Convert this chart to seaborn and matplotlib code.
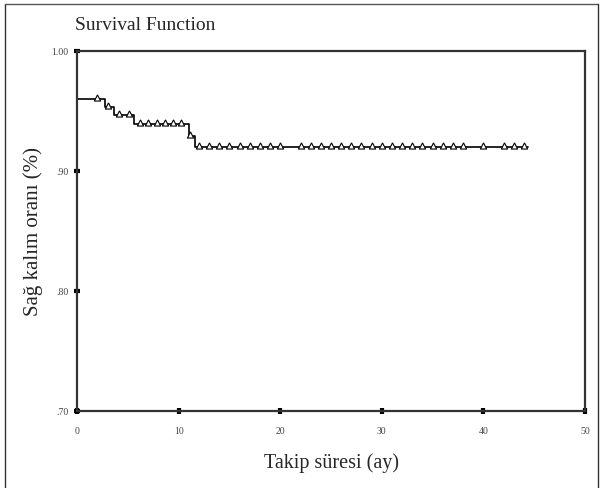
import matplotlib
matplotlib.use("Agg")
import matplotlib.pyplot as plt
from matplotlib.lines import Line2D
import seaborn as sns
import pandas as pd
import numpy as np

sns.set_style("white")
plt.rcParams["font.family"] = ["Liberation Serif", "DejaVu Serif"]

# Kaplan-Meier step function (time in months, survival proportion)
step_times = [0, 2.8, 3.6, 5.6, 11.0, 11.6, 44.4]
step_surv = [0.960, 0.953, 0.947, 0.939, 0.929, 0.920, 0.920]

# censored observations
censor_times = [2.0, 3.1, 4.1, 5.1, 6.2, 7.0, 7.9, 8.7, 9.4, 10.2, 11.1,
                12, 13, 14, 15, 16, 17, 18, 19, 20,
                22, 23, 24, 25, 26, 27, 28, 29, 30, 31, 32, 33, 34, 35, 36, 37, 38,
                40, 42, 43, 44]

x_ticks = [0, 10, 20, 30, 40, 50]
y_ticks = [0.70, 0.80, 0.90, 1.00]
y_ticklabels = [".70", ".80", ".90", "1.00"]

steps = pd.DataFrame({"time": step_times, "surv": step_surv})
idx = np.searchsorted(step_times, censor_times, side="right") - 1
censored = pd.DataFrame({"time": censor_times, "surv": np.array(step_surv)[idx]})

fig = plt.figure(figsize=(6.03, 4.89), dpi=100)
ax = fig.add_axes([77 / 603, 77 / 489, 508 / 603, 360 / 489])

sns.lineplot(data=steps, x="time", y="surv", drawstyle="steps-post",
             color="black", lw=1.2, ax=ax)
tri = [(0, 1.5), (-1, -0.5), (1, -0.5), (0, 1.5)]
sns.scatterplot(data=censored, x="time", y="surv", marker=tri, s=45,
                facecolor="white", edgecolor="black", linewidth=0.8,
                zorder=3, ax=ax)

ax.set_xlim(0, 50)
ax.set_ylim(0.70, 1.00)
ax.set_xticks(x_ticks)
ax.set_yticks(y_ticks)
ax.set_yticklabels(y_ticklabels)
ax.tick_params(bottom=True, left=True, direction="inout", length=4, width=3,
               color="black", labelsize=7, labelcolor="#444444", pad=4)
ax.tick_params(axis="x", pad=9)
for sp in ax.spines.values():
    sp.set_color("#333333")
    sp.set_linewidth(1.6)

ax.set_xlabel("Takip süresi (ay)", fontsize=14.5, labelpad=12)
ax.set_ylabel("Sağ kalım oranı (%)", fontsize=15, labelpad=6)
fig.text(75 / 603, 1 - 25 / 489, "Survival Function", fontsize=14,
         ha="left", va="center")

# outer frame
fig.add_artist(Line2D([5 / 603, 5 / 603], [0, 1 - 5 / 489], color="#333333", lw=1))
fig.add_artist(Line2D([5 / 603, 598 / 603], [1 - 5 / 489, 1 - 5 / 489], color="#555555", lw=1))
fig.add_artist(Line2D([598 / 603, 598 / 603], [0, 1 - 5 / 489], color="#333333", lw=1))

fig.savefig("out.png", dpi=100, facecolor="w")
